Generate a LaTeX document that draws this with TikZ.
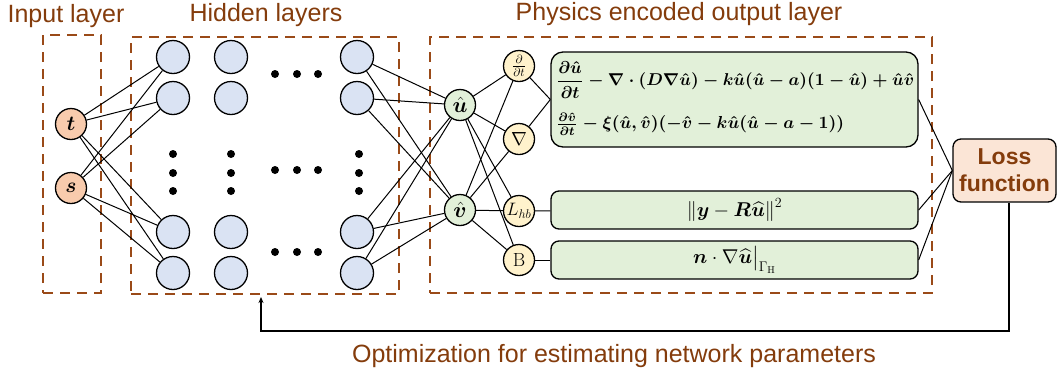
\documentclass[tikz,border=0pt]{standalone}
\usepackage{fix-cm}
\usepackage{amsmath,amssymb}
\usepackage{bm}
\usepackage{graphicx}
\usepackage{fontspec}
\newfontfamily\arialf{Liberation Sans}
\usetikzlibrary{arrows.meta}
\definecolor{brn}{HTML}{843C0C}
\definecolor{dashc}{HTML}{9A4A18}
\definecolor{inpfill}{HTML}{F8CBAD}
\definecolor{hidfill}{HTML}{DAE3F3}
\definecolor{grnfill}{HTML}{E2F0D9}
\definecolor{yelfill}{HTML}{FFF2CC}
\definecolor{lossfill}{HTML}{FBE5D6}
\begin{document}
\begin{tikzpicture}[x=1pt,y=-1pt,
  title/.style={font=\arialf\fontsize{25}{30}\selectfont, text=brn, inner sep=0, anchor=base},
  dbox/.style={draw=dashc, line width=2.5pt, dash pattern=on 10pt off 7pt, inner sep=0},
  nd/.style={circle, draw, line width=1.3pt, inner sep=0},
  inp/.style={nd, fill=inpfill, minimum size=31pt, font=\fontsize{21}{23}\selectfont},
  hid/.style={nd, fill=hidfill, minimum size=33pt},
  grn/.style={nd, fill=grnfill, minimum size=31pt, font=\fontsize{22}{24}\selectfont},
  opn/.style={nd, fill=yelfill, minimum size=31pt, font=\fontsize{19}{21}\selectfont},
  eqbox/.style={draw, line width=1.3pt, fill=grnfill, rounded corners=8pt, inner sep=0},
  conn/.style={line width=1pt},
  dotf/.style={fill=black}
]
\useasboundingbox (0,0) rectangle (1058,373);

% titles
\node[title] (t1) at (66,22) {Input layer};
\node[title] (t2) at (266,21) {Hidden layers};
\node[title] (t3) at (679,20) {Physics encoded output layer};
\node[title] (t4) at (614,362) {Optimization for estimating network parameters};

% dashed boxes
\node[dbox, minimum width=58pt, minimum height=258pt] (inbox) at (72,164) {};
\node[dbox, minimum width=268pt, minimum height=257pt] (hidden) at (265,165.5) {};
\node[dbox, minimum width=502pt, minimum height=256pt] (phys) at (681,165) {};

% input nodes
\node[inp] (t) at (71,124) {$\bm t$};
\node[inp] (s) at (71,188) {$\bm s$};

% hidden nodes
\foreach \c/\x in {1/173,2/231,3/357}{
  \foreach \r/\y in {1/57,2/98,3/232,4/273}{
    \node[hid] (h\c\r) at (\x,\y) {};
  }
}
% dots
\foreach \x in {173,231,359}{
  \foreach \y in {154,173,191}{ \fill[dotf] (\x,\y) circle (4pt); }
}
\foreach \y in {74,170,252}{
  \foreach \x in {275,297,318}{ \fill[dotf] (\x,\y) circle (4pt); }
}

% physics nodes
\node[grn] (u) at (460,105) {$\hat{\bm u}$};
\node[grn] (v) at (460,210) {$\hat{\bm v}$};
\node[opn] (dt) at (519,66) {\fontsize{17}{18}\selectfont$\frac{\partial}{\partial t}$};
\node[opn] (gr) at (519,139) {$\nabla$};
\node[opn] (lhb) at (519,211) {\fontsize{18}{19}\selectfont$L_{hb}$};
\node[opn] (bb) at (519,260) {$\mathrm{B}$};

% equation boxes
\node[eqbox, rounded corners=12pt, minimum width=367pt, minimum height=95pt] (eq1) at (734.5,99.5) {};
\node[anchor=west, inner sep=0] (eqa) at (556,80) {\resizebox{358pt}{!}{\boldmath$\displaystyle \frac{\partial\hat{\bm u}}{\partial t} - \nabla\cdot(\bm D\nabla\hat{\bm u}) - k\hat{\bm u}(\hat{\bm u}-\bm a)(1-\hat{\bm u})+\hat{\bm u}\hat{\bm v}$}};
\node[anchor=west, inner sep=0] (eqb) at (556,124) {\resizebox{288pt}{!}{\boldmath$\frac{\partial\hat{\bm v}}{\partial t} - \xi(\hat{\bm u},\hat{\bm v})(-\hat{\bm v}-k\hat{\bm u}(\hat{\bm u}-\bm a-1))$}};
\node[eqbox, minimum width=367pt, minimum height=38pt, font=\fontsize{20}{24}\selectfont] (eq2) at (734.5,210) {$\left\|\bm y - \bm R\widehat{\bm u}\right\|^2$};
\node[eqbox, minimum width=367pt, minimum height=38pt, font=\fontsize{20}{24}\selectfont] (eq3) at (734.5,260) {$\bm n\cdot\nabla\widehat{\bm u}\big|_{\Gamma_{\mathrm H}}$};

% loss
\node[draw, line width=1.3pt, fill=lossfill, rounded corners=8pt, minimum width=103pt, minimum height=63pt, align=center, text=brn, font=\arialf\bfseries\fontsize{23}{27}\selectfont, inner sep=0] (loss) at (1004.5,170.5) {Loss\\function};

% connections
\foreach \r in {1,...,4}{
  \draw[conn] (t) -- (h1\r);
  \draw[conn] (s) -- (h1\r);
  \draw[conn] (h3\r) -- (u);
  \draw[conn] (h3\r) -- (v);
}
\foreach \o in {dt,gr,lhb,bb}{
  \draw[conn] (u) -- (\o);
  \draw[conn] (v) -- (\o);
}
\draw[conn] (dt) -- (eq1.west);
\draw[conn] (gr) -- (eq1.west);
\draw[conn] (lhb) -- (eq2);
\draw[conn] (bb) -- (eq3);
\draw[conn] (eq1.east) -- (loss.west);
\draw[conn] (eq2.east) -- (loss.west);
\draw[conn] (eq3.east) -- (loss.west);

% feedback
\coordinate (fb) at (261,331);
\coordinate (fbtop) at (261,297);
\draw[line width=1.2pt, -{Stealth[length=6pt,width=5pt]}] ([xshift=4.5pt]loss.south) |- (fb) -- (fbtop);
\end{tikzpicture}
\end{document}
